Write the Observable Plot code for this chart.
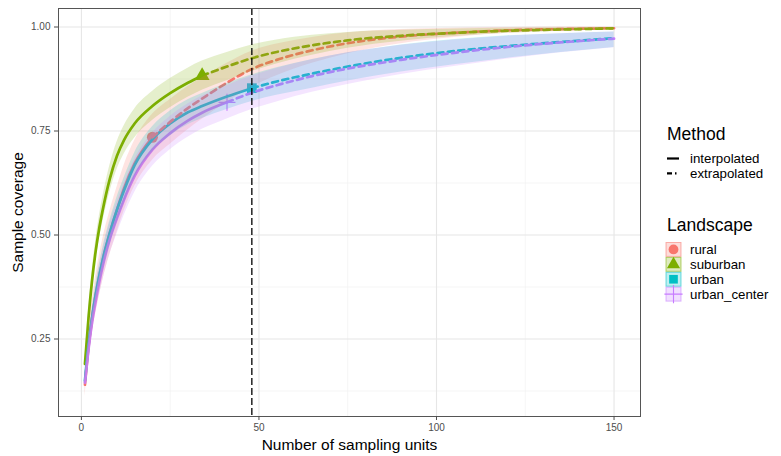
<!DOCTYPE html>
<html>
<head>
<meta charset="utf-8">
<script src="https://cdn.jsdelivr.net/npm/d3@7"></script>
<script src="https://cdn.jsdelivr.net/npm/@observablehq/plot@0.6"></script>
<style>
  body { margin: 0; background: #fff; font-family: "Liberation Sans", Arial, sans-serif; }
  #wrap { position: relative; width: 781px; height: 456px; }
  #legend { position: absolute; left: 640px; top: 0; }
</style>
</head>
<body>
<div id="wrap"><div id="chart"></div><div id="legend"></div></div>
<script>
// Sample-size-based coverage curves per landscape (interpolated up to the
// reference sample, extrapolated beyond it), with 95% confidence bands.
const landscapes = ["rural", "suburban", "urban", "urban_center"];
const colors = ["#F8766D", "#7CAE00", "#00BFC4", "#C77CFF"];
const shapes = ["circle", "triangle", "square", "plus"];
const methods = ["interpolated", "extrapolated"];
const referenceSize = [20, 34, 48, 41];
const markedSize = [48];

const samplingUnits = [1, 2, 3, 4, 5, 6, 8, 10, 12, 15, 20, 25, 30, 34, 41, 48, 55, 65, 75, 90, 105, 120, 135, 150];

const ruralEst = [0.14, 0.23, 0.30, 0.355, 0.40, 0.44, 0.505, 0.56, 0.612, 0.672, 0.735, 0.772, 0.805, 0.828, 0.866, 0.899, 0.921, 0.944, 0.961, 0.977, 0.986, 0.992, 0.995, 0.997];
const ruralLo  = [0.112, 0.195, 0.26, 0.31, 0.352, 0.39, 0.453, 0.506, 0.557, 0.617, 0.68, 0.718, 0.753, 0.778, 0.819, 0.856, 0.883, 0.913, 0.936, 0.96, 0.975, 0.985, 0.99, 0.994];
const ruralHi  = [0.165, 0.265, 0.34, 0.40, 0.448, 0.49, 0.557, 0.614, 0.667, 0.727, 0.79, 0.826, 0.857, 0.878, 0.913, 0.942, 0.959, 0.975, 0.986, 0.994, 0.997, 0.999, 1.0, 1.0];

const suburbanEst = [0.19, 0.30, 0.39, 0.46, 0.515, 0.56, 0.635, 0.69, 0.728, 0.768, 0.81, 0.841, 0.866, 0.883, 0.905, 0.925, 0.94, 0.956, 0.968, 0.979, 0.986, 0.991, 0.994, 0.997];
const suburbanLo  = [0.178, 0.282, 0.368, 0.435, 0.487, 0.53, 0.603, 0.657, 0.694, 0.733, 0.775, 0.806, 0.831, 0.848, 0.871, 0.893, 0.911, 0.932, 0.949, 0.966, 0.977, 0.985, 0.99, 0.994];
const suburbanHi  = [0.202, 0.318, 0.412, 0.485, 0.543, 0.59, 0.667, 0.723, 0.762, 0.803, 0.845, 0.876, 0.901, 0.918, 0.939, 0.957, 0.969, 0.98, 0.987, 0.992, 0.995, 0.997, 0.998, 0.999];

const urbanEst = [0.15, 0.235, 0.30, 0.355, 0.40, 0.44, 0.505, 0.56, 0.607, 0.668, 0.73, 0.768, 0.795, 0.81, 0.833, 0.853, 0.869, 0.888, 0.905, 0.926, 0.942, 0.954, 0.964, 0.973];
const urbanLo  = [0.138, 0.217, 0.278, 0.33, 0.373, 0.412, 0.476, 0.53, 0.577, 0.638, 0.70, 0.738, 0.765, 0.78, 0.802, 0.821, 0.836, 0.853, 0.87, 0.892, 0.909, 0.925, 0.939, 0.951];
const urbanHi  = [0.162, 0.253, 0.322, 0.38, 0.427, 0.468, 0.534, 0.59, 0.637, 0.698, 0.76, 0.798, 0.825, 0.84, 0.864, 0.885, 0.902, 0.922, 0.938, 0.957, 0.97, 0.979, 0.984, 0.988];

const urbanCenterEst = [0.145, 0.225, 0.29, 0.34, 0.385, 0.425, 0.49, 0.54, 0.585, 0.642, 0.705, 0.745, 0.775, 0.794, 0.819, 0.842, 0.86, 0.882, 0.90, 0.921, 0.938, 0.952, 0.963, 0.972];
const urbanCenterLo  = [0.13, 0.203, 0.263, 0.31, 0.352, 0.39, 0.453, 0.502, 0.546, 0.602, 0.665, 0.705, 0.735, 0.754, 0.779, 0.802, 0.82, 0.843, 0.862, 0.886, 0.905, 0.923, 0.938, 0.95];
const urbanCenterHi  = [0.16, 0.247, 0.317, 0.37, 0.418, 0.46, 0.527, 0.578, 0.624, 0.682, 0.745, 0.785, 0.815, 0.834, 0.859, 0.882, 0.90, 0.921, 0.938, 0.956, 0.969, 0.978, 0.984, 0.988];

const xTicks = [0, 50, 100, 150];
const xMinor = [25, 75, 125];
const yTicks = [0.25, 0.50, 0.75, 1.00];
const yMinor = [0.125, 0.375, 0.625, 0.875];

const series = [
  [ruralEst, ruralLo, ruralHi],
  [suburbanEst, suburbanLo, suburbanHi],
  [urbanEst, urbanLo, urbanHi],
  [urbanCenterEst, urbanCenterLo, urbanCenterHi]
];

const rows = landscapes.flatMap((name, i) => samplingUnits.map((m, j) => ({
  landscape: name, m, est: series[i][0][j], lo: series[i][1][j], hi: series[i][2][j], ref: referenceSize[i]
})));
const interp = rows.filter(d => d.m <= d.ref);
const extrap = rows.filter(d => d.m >= d.ref);
const observed = rows.filter(d => d.m === d.ref);

const font = "Liberation Sans, Arial, sans-serif";

const chart = Plot.plot({
  width: 640, height: 456,
  marginLeft: 58, marginRight: 0, marginTop: 8, marginBottom: 40,
  style: { fontFamily: font, background: "#fff", overflow: "visible" },
  x: { domain: [-6.45, 157.45] },
  y: { domain: [0.0637, 1.0445] },
  color: { domain: landscapes, range: colors },
  symbol: { domain: landscapes, range: shapes },
  marks: [
    Plot.ruleX(xMinor, { stroke: "#f0f0f0", strokeWidth: 0.7 }),
    Plot.ruleY(yMinor, { stroke: "#f0f0f0", strokeWidth: 0.7 }),
    Plot.ruleX(xTicks, { stroke: "#e6e6e6", strokeWidth: 1.1 }),
    Plot.ruleY(yTicks, { stroke: "#e6e6e6", strokeWidth: 1.1 }),
    Plot.dot(observed.filter(d => d.landscape !== "urban_center"),
      { x: "m", y: "est", symbol: "landscape", fill: "landscape", r: 5.5 }),
    Plot.dot(observed.filter(d => d.landscape === "urban_center"),
      { x: "m", y: "est", symbol: "landscape", stroke: "landscape", strokeWidth: 1.2, r: 5.5 }),
    Plot.line(interp, { x: "m", y: "est", stroke: "landscape", strokeWidth: 2.7, curve: "monotone-x" }),
    Plot.line(extrap, { x: "m", y: "est", stroke: "landscape", strokeWidth: 2.7, strokeDasharray: "6,4.5", curve: "monotone-x" }),
    Plot.areaY(rows, { x: "m", y1: "lo", y2: "hi", z: "landscape", fill: "landscape", fillOpacity: 0.2, curve: "monotone-x" }),
    Plot.ruleX(markedSize, { stroke: "#000", strokeWidth: 1.3, strokeDasharray: "7,3" }),
    Plot.frame({ stroke: "#555", strokeWidth: 1 }),
    Plot.axisX(xTicks, { tickSize: 4, tickPadding: 3, fontSize: 10, color: "#4d4d4d", label: null }),
    Plot.axisY(yTicks, { tickSize: 4, tickPadding: 4, fontSize: 10, color: "#4d4d4d", label: null, tickFormat: d => d.toFixed(2) }),
    Plot.text(["Number of sampling units"], { frameAnchor: "bottom", dy: 29, lineAnchor: "middle", textAnchor: "middle", fontSize: 15.5, fill: "#000" }),
    Plot.text(["Sample coverage"], { frameAnchor: "left", dx: -40, rotate: -90, lineAnchor: "middle", textAnchor: "middle", fontSize: 15.5, fill: "#000" })
  ]
});
document.getElementById("chart").append(chart);

// Legend: line type by method, colour/shape by landscape
const lg = d3.select("#legend").append("svg")
  .attr("width", 141).attr("height", 456)
  .style("font-family", font);
const ox = 26; // key left edge inside the legend column
const itemSize = 13.3;
const step = 14.9;
lg.append("text").attr("x", ox + 1).attr("y", 134).attr("dy", "0.35em")
  .attr("font-size", 17.5).text("Method");
methods.forEach((name, i) => {
  const cy = 158.5 + i * step;
  lg.append("line").attr("x1", ox + 1).attr("x2", ox + 13).attr("y1", cy).attr("y2", cy)
    .attr("stroke", "#000").attr("stroke-width", 2.2)
    .attr("stroke-dasharray", i ? "5,3,1.5,3" : null);
  lg.append("text").attr("x", 50).attr("y", cy).attr("dy", "0.35em")
    .attr("font-size", itemSize).text(name);
});
lg.append("text").attr("x", ox + 1).attr("y", 225).attr("dy", "0.35em")
  .attr("font-size", 17.5).text("Landscape");
const symbolType = { circle: d3.symbolCircle, triangle: d3.symbolTriangle, square: d3.symbolSquare, plus: d3.symbolPlus };
landscapes.forEach((name, i) => {
  const top = 242 + i * step;
  const cy = top + step / 2;
  lg.append("rect").attr("x", ox).attr("y", top + 0.5).attr("width", 15).attr("height", step - 1)
    .attr("fill", colors[i]).attr("fill-opacity", 0.25)
    .attr("stroke", colors[i]).attr("stroke-opacity", 0.55).attr("stroke-width", 1);
  const path = d3.symbol().type(symbolType[shapes[i]]).size(shapes[i] === "plus" ? 110 : 75)();
  const s = lg.append("path").attr("d", path).attr("transform", `translate(${ox + 7.5},${cy})`);
  if (shapes[i] === "plus") s.attr("fill", "none").attr("stroke", colors[i]).attr("stroke-width", 1.1);
  else s.attr("fill", colors[i]);
  lg.append("text").attr("x", 50).attr("y", cy).attr("dy", "0.35em")
    .attr("font-size", itemSize).text(name);
});
</script>
</body>
</html>
